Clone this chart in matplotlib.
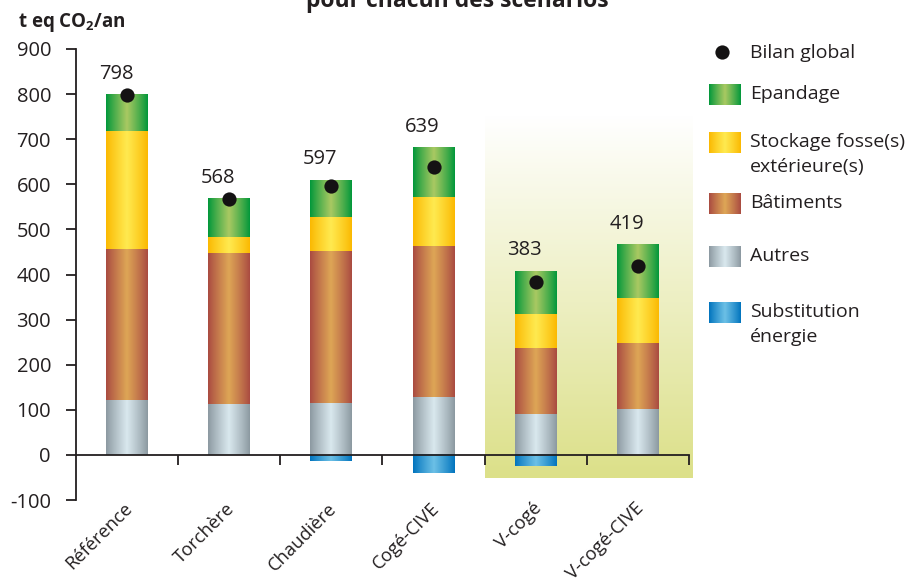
import numpy as np
import matplotlib
matplotlib.use("Agg")
import matplotlib.pyplot as plt
from matplotlib.colors import to_rgb

plt.rcParams['font.family'] = ['Open Sans', 'DejaVu Sans']
plt.rcParams['mathtext.fontset'] = 'custom'
plt.rcParams['mathtext.rm'] = 'Open Sans:bold'
plt.rcParams['mathtext.bf'] = 'Open Sans:bold'
plt.rcParams['axes.unicode_minus'] = False

# ── Data (t eq CO2/an) ──────────────────────────────────────────────────────
scenarios = ["Référence", "Torchère", "Chaudière", "Cogé-CIVE", "V-cogé", "V-cogé-CIVE"]
autres = [122, 113, 115, 129, 91, 102]
batiments = [335, 335, 337, 334, 146, 146]
stockage = [261, 35, 76, 108, 76, 100]
epandage = [80, 85, 82, 109, 95, 118]
substitution = [0, 0, -13, -40, -25, 0]
bilan = [798, 568, 597, 639, 383, 419]

# (edge colour, centre colour) of the horizontal gradients
COLORS = {
    "Epandage": ("#00973a", "#a9c962"),
    "Stockage": ("#fbb800", "#ffea50"),
    "Batiments": ("#a94a41", "#dea656"),
    "Autres": ("#8b98a0", "#d9e8ee"),
    "Substitution": ("#0073bd", "#6cc0e6"),
}
INK = "#231f20"
W, H = 924, 584


def hgrad(edge, centre, n=128):
    e, c = np.array(to_rgb(edge)), np.array(to_rgb(centre))
    t = np.linspace(0, 1, n)
    w = (1 - np.abs(2 * t - 1)) ** 0.9
    return (e[None, :] * (1 - w[:, None]) + c[None, :] * w[:, None])[None, :, :]


fig = plt.figure(figsize=(W / 100, H / 100), dpi=100)
ax = fig.add_axes([76 / W, 84 / H, 613 / W, 451 / H])
ax.patch.set_alpha(0)

x = np.arange(len(scenarios))

# highlighted zone behind the "V-" scenarios
top_c, bot_c = np.array(to_rgb("#ffffff")), np.array(to_rgb("#dce089"))
s = np.linspace(0, 1, 128)[:, None]
bg = (top_c * (1 - s) + bot_c * s)[:, None, :]
ax.imshow(bg, extent=[3.5, 5.53, -51, 752], aspect="auto", zorder=0.5,
          clip_on=False, interpolation="bilinear")

# stacked gradient bars
bottom = np.zeros(len(scenarios))
stack = [("Autres", autres), ("Batiments", batiments),
         ("Stockage", stockage), ("Epandage", epandage)]
for name, vals in stack:
    rects = ax.bar(x, vals, bottom=bottom, width=0.41, color="none",
                   edgecolor="none", zorder=2)
    img = hgrad(*COLORS[name])
    for r in rects:
        if r.get_height() == 0:
            continue
        ax.imshow(img, extent=[r.get_x(), r.get_x() + r.get_width(),
                               r.get_y(), r.get_y() + r.get_height()],
                  aspect="auto", zorder=2, interpolation="bilinear")
    bottom += np.array(vals)

rects = ax.bar(x, substitution, width=0.41, color="none", edgecolor="none", zorder=2)
img = hgrad(*COLORS["Substitution"])
for r in rects:
    if r.get_height() == 0:
        continue
    ax.imshow(img, extent=[r.get_x(), r.get_x() + r.get_width(),
                           r.get_y() + r.get_height(), r.get_y()],
              aspect="auto", zorder=2, interpolation="bilinear")

# bilan global dots + labels
ax.scatter(x, bilan, s=105, color="#141213", zorder=5, linewidths=0)
for i, b in enumerate(bilan):
    ax.annotate(str(b), (x[i], bottom[i]), xytext=(-8, 15),
                textcoords="offset points", ha="center", va="center",
                fontsize=14.5, color=INK)

# category labels under the axis
for i, name in enumerate(scenarios):
    ax.annotate(name, (x[i], -100), xytext=(2, -4), textcoords="offset points",
                rotation=45, rotation_mode="anchor", ha="right", va="center",
                fontsize=13.2, color=INK, annotation_clip=False)

# ── Axes styling ─────────────────────────────────────────────────────────────
ax.set_xlim(-0.5, 5.5)
ax.set_ylim(-100, 900)
ax.spines["top"].set_visible(False)
ax.spines["right"].set_visible(False)
ax.spines["bottom"].set_position(("data", 0))
for sp in ("left", "bottom"):
    ax.spines[sp].set_color(INK)
    ax.spines[sp].set_linewidth(1.3)
    ax.spines[sp].set_zorder(4)
ax.set_xticks(np.arange(0.5, 6, 1))
ax.set_xticklabels([])
ax.set_yticks(np.arange(-100, 901, 100))
ax.tick_params(axis="both", direction="out", length=7, width=1.3, color=INK)
ax.tick_params(axis="y", labelsize=14.5, labelcolor=INK, pad=11)

# ── Overlay in pixel coordinates: texts and legend ──────────────────────────
ov = fig.add_axes([0, 0, 1, 1], zorder=10)
ov.axis("off")

ov.text(18, 27, "t eq CO$_2$/an", ha="left", va="baseline",
        fontsize=13.5, fontweight="bold", color=INK)
ov.text(457, 7, "pour chacun des scénarios", ha="center", va="baseline",
        fontsize=16.5, fontweight="bold", color=INK)

ov.scatter([722], [52], s=105, color="#141213", linewidths=0)
ov.text(750, 53, "Bilan global", ha="left", va="center", fontsize=14, color=INK)
legend_rows = [
    ("Epandage", 95, ["Epandage"]),
    ("Stockage", 143, ["Stockage fosse(s)", "extérieure(s)"]),
    ("Batiments", 204, ["Bâtiments"]),
    ("Autres", 257, ["Autres"]),
    ("Substitution", 313, ["Substitution", "énergie"]),
]
for key, yc, lines in legend_rows:
    ov.imshow(hgrad(*COLORS[key]), extent=[709, 741, yc + 10.5, yc - 10.5],
              aspect="auto", interpolation="bilinear")
    for k, line in enumerate(lines):
        ov.text(750, yc - 1 + 25 * k, line, ha="left", va="center",
                fontsize=14, color=INK)
ov.set_xlim(0, W)
ov.set_ylim(H, 0)

fig.savefig("out.png", dpi=100)
